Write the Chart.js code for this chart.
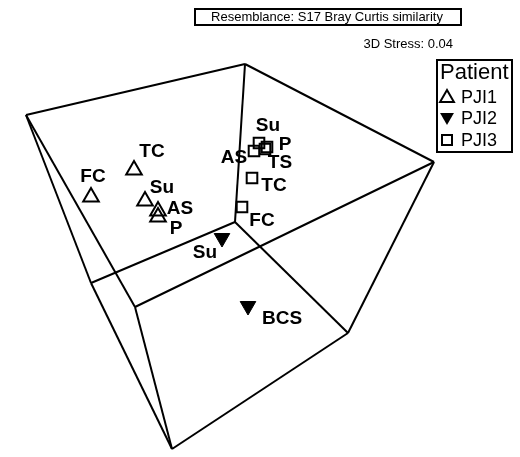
<!DOCTYPE html>
<html>
<head>
<meta charset="utf-8">
<script src="https://cdn.jsdelivr.net/npm/chart.js@4.4.0/dist/chart.umd.min.js"></script>
<style>
  html, body { margin: 0; padding: 0; background: #fff; }
  #wrap { width: 520px; height: 457px; position: relative; }
</style>
</head>
<body>
<div id="wrap"><canvas id="myChart"></canvas></div>
<script>
  /* DATA: projected MDS coordinates */

  const patients = ['PJI1', 'PJI2', 'PJI3'];

  const pji1Labels = ['TC', 'FC', 'Su', 'AS', 'P'];
  const pji1X = [134, 91, 145, 158, 158];
  const pji1Y = [170, 197, 201, 211, 217];

  const pji2Labels = ['Su', 'BCS'];
  const pji2X = [222, 248];
  const pji2Y = [238, 306];

  const pji3Labels = ['Su', 'P', 'AS', 'TS', 'TC', 'FC'];
  const pji3X = [259, 267, 254, 265, 252, 242];
  const pji3Y = [143, 147, 151, 149, 178, 207];

  // corners of the 3D box and the edges between them
  const cornerX = [245, 26, 434, 235, 91, 135, 348, 172];
  const cornerY = [64, 115, 162, 222, 283, 307, 333, 449];
  const edges = [[0, 1], [0, 2], [0, 3], [1, 4], [1, 5], [2, 6], [2, 5], [3, 4], [3, 6], [4, 7], [5, 7], [6, 7]];

  // where each label sits relative to its point
  const pji1Offsets = [[18, -19], [2, -21], [17, -14], [22, -3], [18, 11]];
  const pji2Offsets = [[-17, 14], [34, 12]];
  const pji3Offsets = [[9, -18], [18, -3], [-20, 6], [15, 13], [22, 7], [20, 13]];

  function toPoints(xs, ys) {
    const pts = [];
    for (let i = 0; i < xs.length; i++) {
      pts.push({ x: xs[i], y: ys[i] });
    }
    return pts;
  }

  const boxDatasets = edges.map((e) => ({
    label: 'edge',
    data: [{ x: cornerX[e[0]], y: cornerY[e[0]] }, { x: cornerX[e[1]], y: cornerY[e[1]] }],
    showLine: true,
    borderColor: '#000',
    borderWidth: 2,
    pointRadius: 0,
    fill: false
  }));

  /* PLUGIN FOR LABELS, TITLE BOX AND LEGEND */

  const groupLabels = [pji1Labels, pji2Labels, pji3Labels];
  const groupOffsets = [pji1Offsets, pji2Offsets, pji3Offsets];

  function drawTri(ctx, x, y, r, down, filled) {
    ctx.beginPath();
    for (let k = 0; k < 3; k++) {
      const a = (down ? Math.PI : 0) + k * 2 * Math.PI / 3;
      const px = x + Math.sin(a) * r;
      const py = y - Math.cos(a) * r;
      if (k === 0) ctx.moveTo(px, py); else ctx.lineTo(px, py);
    }
    ctx.closePath();
    if (filled) ctx.fill(); else ctx.stroke();
  }

  const decorPlugin = {
    id: 'decor',
    afterDatasetsDraw(chart) {
      const ctx = chart.ctx;
      ctx.save();
      ctx.fillStyle = '#000';
      ctx.strokeStyle = '#000';

      // point labels
      ctx.font = 'bold 19px "Liberation Sans", Arial, sans-serif';
      ctx.textAlign = 'center';
      ctx.textBaseline = 'middle';
      for (let g = 0; g < 3; g++) {
        const meta = chart.getDatasetMeta(boxDatasets.length + g);
        meta.data.forEach((el, i) => {
          const off = groupOffsets[g][i];
          ctx.fillText(groupLabels[g][i], el.x + off[0], el.y + off[1] + 1);
        });
      }

      // resemblance box
      ctx.font = '13px "Liberation Sans", Arial, sans-serif';
      ctx.lineWidth = 2;
      ctx.strokeRect(195, 9, 266, 16);
      ctx.fillText('Resemblance: S17 Bray Curtis similarity', 327, 17.5);
      ctx.textAlign = 'right';
      ctx.fillText('3D Stress: 0.04', 453, 44);

      // legend
      ctx.lineWidth = 2;
      ctx.strokeRect(437, 60, 75, 92);
      ctx.textAlign = 'left';
      ctx.font = '22px "Liberation Sans", Arial, sans-serif';
      ctx.fillText('Patient', 440, 73);
      ctx.font = '18px "Liberation Sans", Arial, sans-serif';
      const ys = [97, 118, 140];
      for (let i = 0; i < patients.length; i++) {
        ctx.fillText(patients[i], 461, ys[i] + 1);
      }
      ctx.lineWidth = 2;
      drawTri(ctx, 447, ys[0] + 1, 8, false, false);
      drawTri(ctx, 447, ys[1] - 1, 8, true, true);
      ctx.strokeRect(442, ys[2] - 5, 10, 10);
      ctx.restore();
    }
  };

  /* FUNCTION TO CREATE CHART */

  function initChart(chart) {
    return new Chart(chart, {
      type: 'scatter',
      data: {
        datasets: boxDatasets.concat([
          {
            label: patients[0],
            data: toPoints(pji1X, pji1Y),
            pointStyle: 'triangle',
            pointRadius: 9,
            pointBorderWidth: 2,
            pointBorderColor: '#000',
            pointBackgroundColor: 'rgba(255,255,255,0)'
          },
          {
            label: patients[1],
            data: toPoints(pji2X, pji2Y),
            pointStyle: 'triangle',
            rotation: 180,
            pointRadius: 9,
            pointBorderWidth: 1,
            pointBorderColor: '#000',
            pointBackgroundColor: '#000'
          },
          {
            label: patients[2],
            data: toPoints(pji3X, pji3Y),
            pointStyle: 'rect',
            pointRadius: 7.5,
            pointBorderWidth: 2,
            pointBorderColor: '#000',
            pointBackgroundColor: 'rgba(255,255,255,0)'
          }
        ])
      },
      options: {
        responsive: true,
        maintainAspectRatio: false,
        animation: false,
        layout: { padding: 0, autoPadding: false },
        plugins: {
          legend: { display: false },
          title: { display: false },
          tooltip: { enabled: false }
        },
        scales: {
          x: { type: 'linear', min: 0, max: 520, display: false },
          y: { type: 'linear', min: 0, max: 457, reverse: true, display: false }
        }
      },
      plugins: [decorPlugin]
    });
  }

  document.addEventListener('DOMContentLoaded', () => {
    initChart(document.querySelector('#myChart'));
  });
</script>
</body>
</html>
